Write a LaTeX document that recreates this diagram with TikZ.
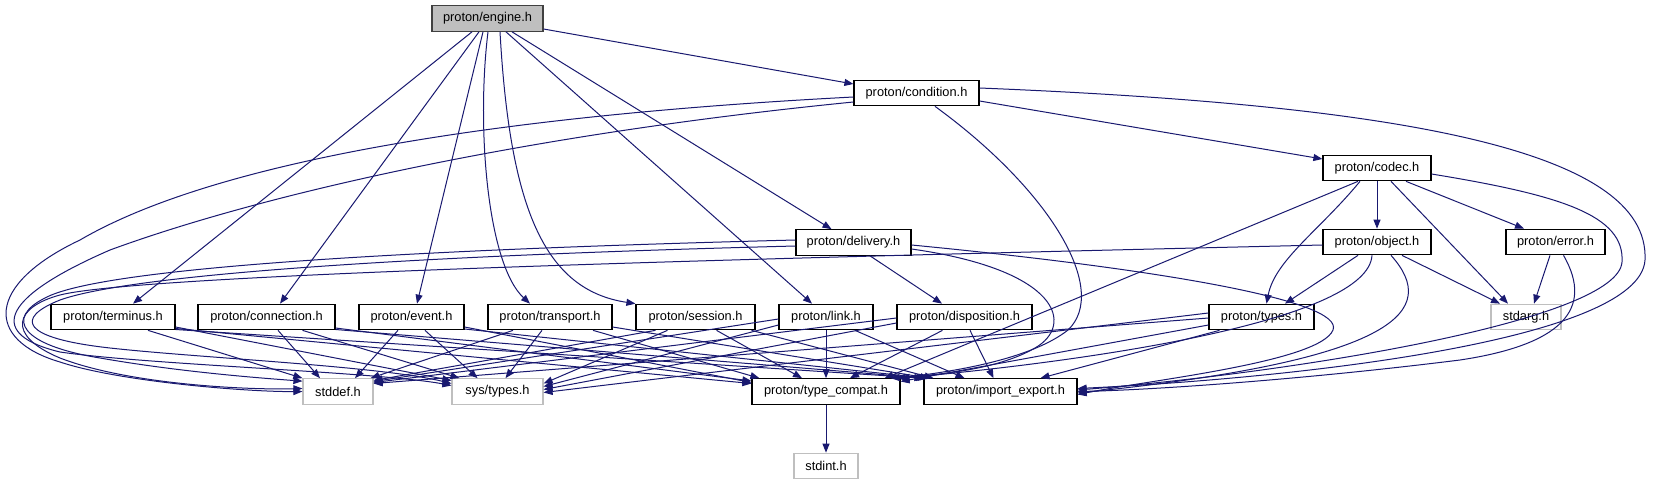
\documentclass[tikz,border=0pt]{standalone}
\usepackage{fontspec}
\setmainfont{Liberation Sans}
\usetikzlibrary{arrows.meta}
\definecolor{edgec}{HTML}{191970}
\definecolor{grayb}{HTML}{BFBFBF}
\definecolor{engb}{HTML}{404040}
\begin{document}
\begin{tikzpicture}[x=1pt,y=-1pt,
  hbox/.style={draw=black, line width=1.2pt, minimum height=25.5pt, inner sep=0pt, font=\fontsize{12.8}{15}\selectfont, text=black, fill=white},
  sbox/.style={hbox, draw=grayb},
  edge/.style={draw=edgec, line width=1pt, -{Triangle[length=9pt,width=7pt]}}]
\useasboundingbox[fill=white] (0,0) rectangle (1655,485);
% nodes
\node[hbox, fill=grayb, draw=engb, minimum width=111pt] (engine) at (487.5,18.5) {proton/engine.h};
\node[hbox, minimum width=125pt] (condition) at (916.5,93) {proton/condition.h};
\node[hbox, minimum width=108pt] (codec) at (1377,168) {proton/codec.h};
\node[hbox, minimum width=115pt] (delivery) at (853.5,242.5) {proton/delivery.h};
\node[hbox, minimum width=108pt] (object) at (1377,242) {proton/object.h};
\node[hbox, minimum width=99pt] (error) at (1555.5,242) {proton/error.h};
\node[hbox, minimum width=124pt] (terminus) at (113,317) {proton/terminus.h};
\node[hbox, minimum width=137pt] (connection) at (266.5,317) {proton/connection.h};
\node[hbox, minimum width=105pt] (event) at (411.5,317) {proton/event.h};
\node[hbox, minimum width=124pt] (transport) at (550,317) {proton/transport.h};
\node[hbox, minimum width=119pt] (session) at (695.5,317) {proton/session.h};
\node[hbox, minimum width=94pt] (link) at (826,317) {proton/link.h};
\node[hbox, minimum width=135pt] (disposition) at (964.5,317) {proton/disposition.h};
\node[hbox, minimum width=105pt] (types) at (1261.5,317) {proton/types.h};
\node[sbox, minimum width=70pt] (stdarg) at (1526,317) {stdarg.h};
\node[sbox, minimum width=70pt] (stddef) at (338,391.5) {stddef.h};
\node[sbox, minimum width=91pt] (systypes) at (497.5,391.5) {sys/types.h};
\node[hbox, minimum width=148pt] (typecompat) at (826,391.5) {proton/type\_compat.h};
\node[hbox, minimum width=153pt] (importexport) at (1000.5,391.5) {proton/import\_export.h};
\node[sbox, minimum width=64pt] (stdint) at (826,466) {stdint.h};
% engine
\draw[edge] ([xshift=-15.5pt]engine.south) -- ([xshift=20pt]terminus.north);
\draw[edge] ([xshift=-8.5pt]engine.south) -- ([xshift=13.5pt]connection.north);
\draw[edge] ([xshift=-4.5pt]engine.south) -- ([xshift=5.5pt]event.north);
\draw[edge] ([xshift=0.5pt]engine.south) .. controls (476,130) and (488,265) .. ([xshift=-20pt]transport.north);
\draw[edge] ([xshift=12.5pt]engine.south) .. controls (510,210) and (545,290) .. (session.north west);
\draw[edge] ([xshift=18.5pt]engine.south) -- ([xshift=-14pt]link.north);
\draw[edge] ([xshift=24.5pt]engine.south) -- ([xshift=-22pt]delivery.north);
\draw[edge] ([yshift=-10.5pt]engine.east) -- ([yshift=9pt]condition.west);
% condition
\draw[edge] ([yshift=-8pt]condition.east) -- ([yshift=9pt]codec.west);
\draw[edge] ([yshift=5pt]condition.east) .. controls (1400,105) and (1650,150) .. (1645,260) .. controls (1640,340) and (1300,378) .. ([yshift=3pt]importexport.east);
\draw[edge] ([xshift=18.5pt]condition.south) .. controls (1050,190) and (1110,290) .. (1068,330) .. controls (1030,360) and (950,372) .. ([xshift=-4pt]typecompat.north east);
\draw[edge] ([yshift=-4pt]condition.west) .. controls (450,118) and (200,170) .. (80,240) .. controls (-15,285) and (-15,340) .. (60,362) .. controls (120,382) and (250,392) .. (stddef.west);
\draw[edge] ([yshift=-9pt]condition.west) .. controls (520,135) and (260,195) .. (110,250) .. controls (-5,300) and (-10,335) .. (60,352) .. controls (150,365) and (380,372) .. ([yshift=6pt]systypes.west);
% delivery
\draw[edge] ([xshift=16.5pt]delivery.south) -- ([xshift=-22.5pt]disposition.north);
\draw[edge] ([yshift=-6.5pt]delivery.east) .. controls (1060,270) and (1075,325) .. (1035,348) .. controls (1000,368) and (950,374) .. ([xshift=-10pt]typecompat.north east);
\draw[edge] ([yshift=-2.5pt]delivery.east) .. controls (1150,268) and (1345,300) .. (1333,330) .. controls (1320,362) and (1150,380) .. ([yshift=-3pt]importexport.east);
\draw[edge] ([yshift=2.5pt]delivery.west) .. controls (400,250) and (100,268) .. (45,298) .. controls (5,318) and (20,345) .. (100,358) .. controls (180,372) and (260,378) .. ([yshift=-3pt]stddef.north west);
\draw[edge] ([yshift=-3.5pt]delivery.west) .. controls (400,256) and (130,275) .. (60,300) .. controls (15,318) and (20,338) .. (110,348) .. controls (200,358) and (380,366) .. ([yshift=8pt]systypes.west);
% object
\draw[edge] ([yshift=-3pt]object.west) .. controls (900,255) and (150,272) .. (60,295) .. controls (15,307) and (5,335) .. (60,358) .. controls (130,385) and (250,390) .. ([yshift=3pt]stddef.west);
\draw[edge] ([xshift=-19pt]object.south) -- ([xshift=23.5pt]types.north);
\draw[edge] ([xshift=25pt]object.south) -- ([xshift=-26pt]stdarg.north);
\draw[edge] ([xshift=-5pt]object.south) .. controls (1368,320) and (1100,360) .. (typecompat.north east);
\draw[edge] ([xshift=14pt]object.south) .. controls (1440,310) and (1400,360) .. ([yshift=-1.5pt]importexport.east);
% codec
\draw[edge] (codec) -- (object);
\draw[edge] ([xshift=29pt]codec.south) -- ([xshift=-31.5pt]error.north);
\draw[edge] ([xshift=14pt]codec.south) -- ([xshift=-18pt]stdarg.north);
\draw[edge] ([xshift=-17pt]codec.south) .. controls (1320,230) and (1275,260) .. ([xshift=5pt]types.north);
\draw[edge] ([xshift=-19pt]codec.south) -- ([xshift=-16pt]typecompat.north east);
\draw[edge] ([yshift=-6pt]codec.east) .. controls (1560,195) and (1625,215) .. (1622,262) .. controls (1618,320) and (1300,372) .. ([yshift=1.5pt]importexport.east);
% error
\draw[edge] ([xshift=-5.5pt]error.south) -- ([xshift=8pt]stdarg.north);
\draw[edge] ([xshift=8pt]error.south) .. controls (1595,310) and (1560,345) .. (1460,360) .. controls (1300,380) and (1150,390) .. (importexport.east);
% types
\draw[edge] ([yshift=-1pt]types.west) -- ([yshift=8pt]stddef.east);
\draw[edge] ([yshift=4pt]types.west) -- ([yshift=-1pt]systypes.east);
\draw[edge] ([yshift=-8pt]types.west) -- ([yshift=10pt]typecompat.east);
\draw[edge] ([xshift=-42pt]types.south) -- ([xshift=40pt]importexport.north);
% disposition
\draw[edge] ([yshift=-1pt]disposition.west) -- ([yshift=9pt]stddef.east);
\draw[edge] ([yshift=-6pt]disposition.west) -- ([yshift=2pt]systypes.east);
\draw[edge] ([xshift=-22pt]disposition.south) -- ([xshift=24pt]typecompat.north);
\draw[edge] ([xshift=5.5pt]disposition.south) -- ([xshift=-7pt]importexport.north);
% link
\draw[edge] ([yshift=-2pt]link.west) -- ([yshift=10pt]stddef.east);
\draw[edge] ([yshift=-8pt]link.west) -- ([yshift=5pt]systypes.east);
\draw[edge] (link) -- (typecompat);
\draw[edge] ([xshift=29pt]link.south) -- ([xshift=-36pt]importexport.north);
% session
\draw[edge] ([xshift=-40pt]session.south) -- ([yshift=11pt]stddef.east);
\draw[edge] ([xshift=-28pt]session.south) -- ([yshift=8pt]systypes.east);
\draw[edge] ([xshift=21pt]session.south) -- ([xshift=-24pt]typecompat.north);
\draw[edge] ([xshift=56pt]session.south) -- ([xshift=10pt]importexport.north west);
% transport
\draw[edge] ([xshift=-37pt]transport.south) -- ([xshift=-3pt]stddef.north east);
\draw[edge] ([xshift=-8pt]transport.south) -- ([xshift=8pt]systypes.north);
\draw[edge] ([xshift=43pt]transport.south) -- ([xshift=8pt]typecompat.north west);
\draw[edge] ([yshift=-10pt]transport.east) -- ([xshift=6pt]importexport.north west);
% event
\draw[edge] ([xshift=-13.5pt]event.south) -- ([xshift=17pt]stddef.north);
\draw[edge] ([xshift=13.5pt]event.south) -- ([xshift=-20pt]systypes.north);
\draw[edge] ([yshift=-10pt]event.east) -- ([yshift=9pt]typecompat.west);
\draw[edge] ([yshift=-12pt]event.east) -- ([xshift=4pt]importexport.north west);
% connection
\draw[edge] ([xshift=11.5pt]connection.south) -- ([xshift=-18pt]stddef.north);
\draw[edge] ([xshift=36pt]connection.south) -- ([xshift=8pt]systypes.north west);
\draw[edge] ([yshift=-11pt]connection.east) -- ([yshift=10.5pt]typecompat.west);
\draw[edge] ([yshift=-12.5pt]connection.east) -- ([xshift=2pt]importexport.north west);
% terminus
\draw[edge] ([xshift=35pt]terminus.south) -- (stddef.north west);
\draw[edge] ([yshift=-10pt]terminus.east) -- ([yshift=11pt]systypes.west);
\draw[edge] ([yshift=-11.5pt]terminus.east) -- ([yshift=8pt]typecompat.west);
\draw[edge] ([yshift=-12.5pt]terminus.east) -- (importexport.north west);
% type_compat
\draw[edge] (typecompat) -- (stdint);
\end{tikzpicture}
\end{document}
